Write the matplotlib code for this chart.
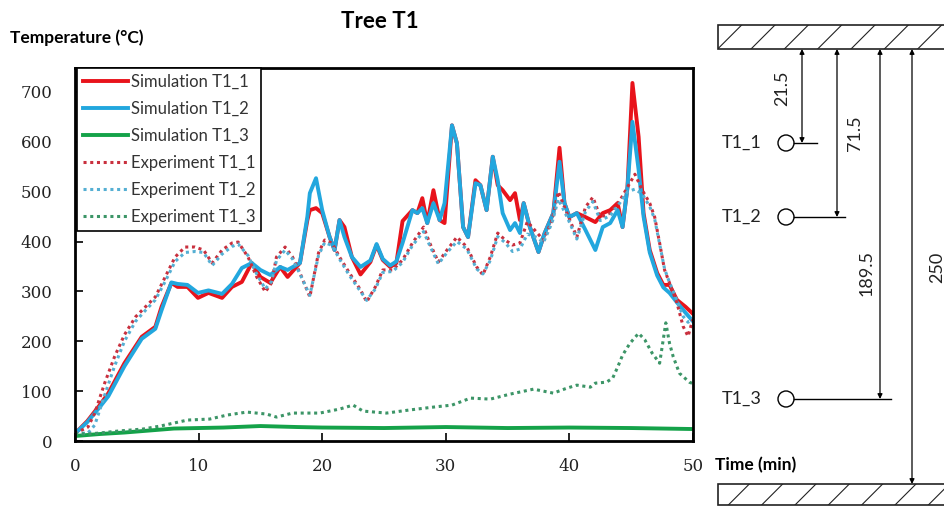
import matplotlib.pyplot as plt
from matplotlib.patches import Rectangle, Circle

# ---- data (time in min, temperature in deg C) ----
t_sim = [0, 1, 2, 2.7, 4.0, 5.4, 6.5, 7.0, 7.8, 8.3, 9.1, 9.95, 10.8, 11.9, 12.7, 13.5,
         14.3, 15.0, 15.8, 16.6, 17.2, 18.2, 18.8, 19.0, 19.5, 20.0, 20.6, 21.0, 21.4,
         21.8, 22.4, 23.1, 23.9, 24.4, 24.9, 25.5, 26.0, 26.5, 27.3, 27.7, 28.1, 28.5,
         29.0, 29.5, 29.9, 30.5, 30.9, 31.4, 31.8, 32.4, 32.8, 33.3, 33.8, 34.2, 34.6,
         35.2, 35.6, 36.0, 36.3, 36.8, 37.5, 38.0, 38.7, 39.2, 39.6, 40.0, 40.6, 41.3,
         42.1, 42.7, 43.3, 43.9, 44.3, 44.7, 45.1, 45.6, 46.0, 46.5, 47.1, 47.6, 48.1,
         48.7, 49.4, 50]
sim_t1_1 = [15, 40, 72, 96, 156, 209, 229, 269, 317, 309, 309, 287, 297, 287, 309, 319,
            357, 329, 317, 349, 329, 357, 443, 463, 467, 457, 409, 383, 443,
            429, 369, 334, 359, 393, 363, 349, 357, 441, 463, 457, 487, 437,
            503, 443, 437, 633, 597, 429, 409, 523, 513, 463, 570, 513, 503,
            483, 497, 443, 477, 429, 379, 417, 457, 588, 477, 449, 457, 449,
            439, 457, 463, 477, 429, 509, 718, 610, 457, 383, 337, 313, 313,
            283, 269, 255]
sim_t1_2 = [15, 38, 68, 90, 150, 205, 225, 262, 318, 315, 313, 297, 302, 295, 315, 347,
            357, 343, 333, 349, 343, 357, 450, 497, 527, 463, 409, 383, 443,
            409, 369, 349, 362, 395, 365, 352, 360, 397, 463, 457, 467, 437,
            477, 443, 477, 633, 597, 429, 409, 517, 513, 463, 570, 523, 457,
            423, 437, 417, 477, 429, 379, 417, 457, 560, 477, 449, 457, 423,
            383, 429, 437, 463, 429, 509, 640, 544, 450, 378, 332, 308, 297,
            278, 257, 240]

t_sim3 = [0, 2, 4, 6, 8, 10, 12, 15, 18, 20, 25, 30, 35, 40, 45, 50]
sim_t1_3 = [10, 14, 17, 21, 25, 26, 27, 30, 28, 27, 26, 28, 26, 27, 26, 24]

t_exp = [0, 1.05, 1.6, 2.4, 3.2, 4.0, 4.9, 5.7, 6.5, 7.3, 8.1, 8.9, 9.7, 10.4, 11.1,
         11.9, 12.7, 13.2, 14.0, 14.7, 15.4, 15.9, 16.3, 17.0, 17.6, 18.2, 19.0, 19.7,
         20.2, 20.8, 21.4, 22.2, 23.1, 23.6, 24.3, 24.9, 25.7, 26.5, 27.3, 28.2, 28.7,
         29.4, 30.1, 30.9, 31.7, 32.5, 33.0, 33.6, 34.2, 34.8, 35.4, 36.0, 36.6, 37.4,
         37.9, 38.6, 39.1, 39.8, 40.6, 41.3, 41.9, 42.5, 43.3, 44.1, 44.7, 45.3, 45.9,
         46.5, 46.9, 47.3, 47.7, 48.1, 48.7, 49.2, 49.6, 50]
exp_t1_1 = [15, 28, 56, 116, 169, 213, 249, 269, 289, 329, 369, 389, 389, 383, 357,
            383, 397, 399, 369, 329, 299, 317, 369, 389, 369, 337, 289, 377,
            403, 397, 369, 337, 303, 279, 309, 343, 343, 363, 397, 429, 397,
            359, 383, 409, 389, 349, 333, 369, 417, 403, 393, 397, 440, 417,
            403, 443, 500, 457, 409, 469, 489, 449, 457, 483, 509, 535, 503,
            477, 449, 397, 343, 317, 277, 230, 210, 245]
exp_t1_2 = [15, 16, 32, 92, 150, 200, 240, 262, 283, 320, 360, 378, 380, 378, 352,
            375, 390, 395, 372, 335, 305, 320, 362, 383, 365, 335, 292, 372,
            398, 392, 365, 332, 300, 282, 305, 338, 340, 358, 392, 420, 392,
            355, 378, 400, 385, 345, 335, 362, 410, 398, 380, 385, 415, 408,
            398, 438, 485, 450, 405, 460, 480, 442, 452, 478, 500, 505, 495,
            470, 445, 395, 345, 318, 282, 250, 238, 245]

t_exp3 = [0, 1, 2, 3.5, 5.5, 6.9, 9.1, 10.9, 12.3, 13.9, 15.5, 16.3, 17.6, 19.8, 21.4,
          22.5, 23.3, 25.2, 27, 29, 30.5, 32.0, 33.6, 35.2, 37.1, 38.7, 39.8, 40.6,
          41.7, 42.1, 43.0, 43.5, 43.9, 44.3, 44.9, 45.6, 46.1, 46.7, 47.3, 47.8,
          48.1, 48.4, 48.9, 49.7, 50]
exp_t1_3 = [15, 14, 16, 20, 24, 30, 42, 44, 52, 58, 54, 48, 56, 56, 64,
            72, 60, 56, 62, 68, 72, 86, 84, 94, 104, 96, 106, 112,
            108, 116, 118, 126, 148, 172, 196, 216, 203, 176, 156, 237,
            196, 169, 136, 118, 115]

x_ticks = [0, 10, 20, 30, 40, 50]
y_ticks = [0, 100, 200, 300, 400, 500, 600, 700]

sensor_names = ['T1_1', 'T1_2', 'T1_3']
depth_cm = [21.5, 71.5, 189.5]
wall_gap_cm = 250

# ---- figure ----
fig = plt.figure(figsize=(9.44, 5.15), dpi=100)
ax = fig.add_axes([75 / 944, 1 - 441 / 515, 618 / 944, 373 / 515])

red = '#e8131b'
blue = '#22a7de'
green = '#14a249'
dots = (0, (1, 1.2))

ax.plot(t_sim, sim_t1_1, color=red, lw=2.8, label='Simulation T1_1')
ax.plot(t_sim, sim_t1_2, color=blue, lw=2.8, label='Simulation T1_2')
ax.plot(t_sim3, sim_t1_3, color=green, lw=2.8, label='Simulation T1_3')
ax.plot(t_exp, exp_t1_1, color='#c9303e', lw=2.2, ls=dots, label='Experiment T1_1')
ax.plot(t_exp, exp_t1_2, color='#55afd3', lw=2.2, ls=dots, label='Experiment T1_2')
ax.plot(t_exp3, exp_t1_3, color='#3c9567', lw=2.2, ls=dots, label='Experiment T1_3')

ax.set_xlim(0, 50)
ax.set_ylim(0, 748)
ax.set_xticks(x_ticks)
ax.set_yticks(y_ticks)
ax.tick_params(direction='in', length=6, width=1.2, labelsize=12, pad=12,
               labelfontfamily='DejaVu Serif', colors='black', labelcolor='#222222')
ax.tick_params(axis='y', pad=16)
for s in ax.spines.values():
    s.set_linewidth(2)

leg = ax.legend(loc='upper left', bbox_to_anchor=(0.003, 1.0), borderaxespad=0,
                fancybox=False, framealpha=1, edgecolor='black',
                handlelength=2.7, handletextpad=0.2, labelspacing=0.66,
                borderpad=0.35, prop={'family': 'Lato', 'size': 12})
leg.get_frame().set_linewidth(1.2)
for txt in leg.get_texts():
    txt.set_color('#333333')

fig.text(380 / 944, 1 - 22 / 515, 'Tree T1', ha='center', va='center',
         fontsize=16, fontweight='bold', family='Lato')
fig.text(10 / 944, 1 - 38 / 515, 'Temperature (°C)', ha='left', va='center',
         fontsize=12.5, fontweight='bold', family='Lato')
fig.text(715 / 944, 1 - 465 / 515, 'Time (min)', ha='left', va='center',
         fontsize=12.5, fontweight='bold', family='Lato')

# ---- sensor sketch on the right, drawn in pixel units ----
plt.rcParams['hatch.linewidth'] = 0.8
sk = fig.add_axes([0, 0, 1, 1], zorder=-1)
sk.set_xlim(0, 944)
sk.set_ylim(515, 0)
sk.axis('off')

wall_top, wall_bot = 49, 484
sk.add_patch(Rectangle((718, 25), 260, wall_top - 25, fill=False, hatch='/',
                       lw=1.2, ec='#222222'))
sk.add_patch(Rectangle((718, wall_bot), 260, 21, fill=False, hatch='/',
                       lw=1.2, ec='#222222'))

sensor_y = [143, 217, 399]
arrow_x = [802, 837, 880]
stub_end = [817, 845, 891]
label_xy = [(782, 88), (855, 133), (867, 273)]
arrow_kw = dict(arrowstyle='<|-|>', lw=0.9, color='black', mutation_scale=7,
                shrinkA=0, shrinkB=0)

for name, d, y, xa, xe, (lx, ly) in zip(sensor_names, depth_cm, sensor_y, arrow_x,
                                         stub_end, label_xy):
    sk.add_patch(Circle((786, y), 8, fill=False, lw=1.0, ec='black'))
    sk.plot([794, xe], [y, y], color='black', lw=1.0)
    sk.text(762, y, name, ha='right', va='center', fontsize=13, family='Lato',
            color='#222222')
    sk.annotate('', xy=(xa, y), xytext=(xa, wall_top), arrowprops=arrow_kw)
    sk.text(lx, ly, f'{d:g}', rotation=90, ha='center', va='center',
            fontsize=13, family='Lato', color='#222222')

sk.annotate('', xy=(912, wall_bot), xytext=(912, wall_top), arrowprops=arrow_kw)
sk.text(937, 267, f'{wall_gap_cm:g}', rotation=90, ha='center', va='center',
        fontsize=13, family='Lato', color='#222222')

fig.savefig('out.png', dpi=100)
